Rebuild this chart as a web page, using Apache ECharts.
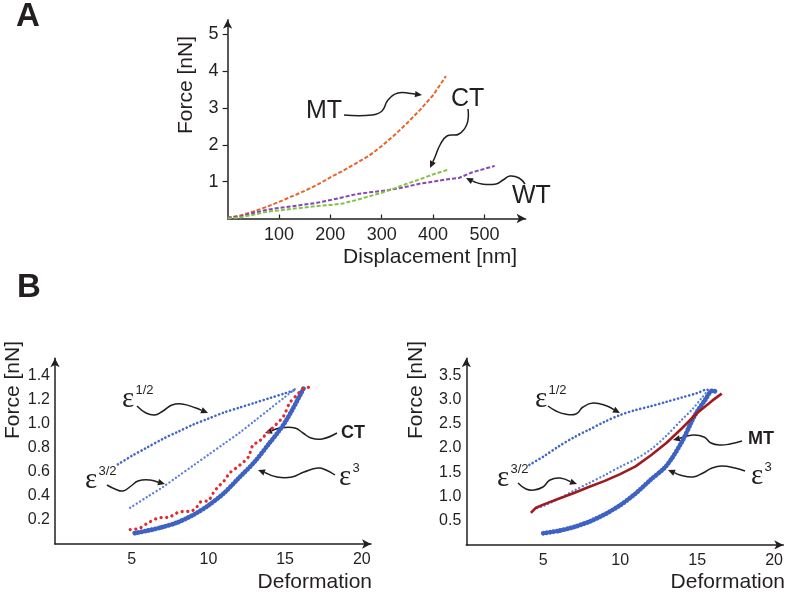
<!DOCTYPE html>
<html><head><meta charset="utf-8">
<script src="https://cdn.jsdelivr.net/npm/echarts@6/dist/echarts.min.js"></script>
<style>html,body{margin:0;padding:0;background:#fff}#c{width:787px;height:593px}</style>
</head><body><div id="c"></div>
<script>
// ---------- Panel A : Force vs Displacement ----------
const aTicksX = [100, 200, 300, 400, 500];
const aTicksY = [1, 2, 3, 4, 5];
const mtDisp  = [0, 25, 50, 75, 100, 125, 150, 175, 200, 225, 250, 275, 300, 325, 350, 375, 400, 425];
const mtForce = [0.02, 0.08, 0.19, 0.31, 0.45, 0.6, 0.75, 0.92, 1.12, 1.3, 1.5, 1.7, 1.97, 2.27, 2.6, 2.96, 3.35, 3.87];
const ctDisp  = [0, 25, 50, 75, 100, 125, 150, 175, 200, 225, 250, 275, 300, 325, 350, 375, 400, 430];
const ctForce = [0.0, 0.03, 0.1, 0.18, 0.22, 0.26, 0.3, 0.34, 0.37, 0.41, 0.5, 0.6, 0.7, 0.82, 0.95, 1.07, 1.2, 1.33];
const wtDisp  = [0, 25, 50, 75, 100, 125, 150, 175, 200, 225, 250, 275, 300, 325, 350, 375, 400, 425, 450, 475, 500, 520];
const wtForce = [0.02, 0.06, 0.15, 0.23, 0.29, 0.33, 0.38, 0.43, 0.5, 0.58, 0.66, 0.71, 0.75, 0.8, 0.87, 0.95, 1.0, 1.06, 1.1, 1.25, 1.35, 1.43];

// ---------- Panel B left : CT ----------
const bTicksX = [5, 10, 15, 20];
const blTicksY = [0.2, 0.4, 0.6, 0.8, 1.0, 1.2, 1.4];
const lE12x = [4.1, 5, 6, 7, 8, 9, 10, 11, 12, 13, 14, 15, 15.7];
const lE12y = [0.66, 0.73, 0.8, 0.87, 0.93, 0.99, 1.04, 1.09, 1.13, 1.17, 1.21, 1.25, 1.28];
const lE32x = [4.9, 6, 7, 8, 9, 10, 11, 12, 13, 14, 15, 15.7];
const lE32y = [0.3, 0.39, 0.47, 0.56, 0.65, 0.74, 0.83, 0.92, 1.02, 1.12, 1.22, 1.29];
const lE3x  = [5.2, 6, 7, 8, 9, 10, 11, 12, 13, 14, 14.5, 15, 15.5, 16, 16.2];
const lE3y  = [0.09, 0.11, 0.14, 0.18, 0.24, 0.32, 0.42, 0.55, 0.68, 0.84, 0.92, 1.01, 1.12, 1.24, 1.29];
const ctDefX = [4.9, 5.5, 6.0, 6.6, 7.0, 7.4, 7.7, 8.0, 8.4, 8.8, 9.2, 9.5, 10.0, 10.3, 10.6, 11.0, 11.4, 11.8, 12.1, 12.6, 12.9, 13.3, 13.6, 14.0, 14.4, 14.9, 15.3, 15.8, 16.2, 16.6];
const ctDefY = [0.12, 0.13, 0.17, 0.21, 0.22, 0.22, 0.24, 0.26, 0.27, 0.27, 0.3, 0.35, 0.36, 0.42, 0.47, 0.52, 0.59, 0.63, 0.66, 0.72, 0.82, 0.85, 0.89, 0.94, 0.99, 1.06, 1.17, 1.24, 1.29, 1.3];

// ---------- Panel B right : MT ----------
const brTicksY = [0.5, 1.0, 1.5, 2.0, 2.5, 3.0, 3.5];
const rE12x = [4.1, 5, 6, 7, 8, 9, 10, 11, 12, 13, 14, 15, 15.6, 16.2];
const rE12y = [1.65, 1.82, 2.03, 2.22, 2.38, 2.54, 2.68, 2.78, 2.86, 2.95, 3.04, 3.13, 3.2, 3.18];
const rE32x = [4.6, 5, 6, 7, 8, 9, 10, 11, 12, 13, 14, 14.7, 15.3, 15.8, 16.2];
const rE32y = [0.76, 0.8, 0.95, 1.12, 1.28, 1.44, 1.61, 1.77, 1.97, 2.25, 2.58, 2.8, 3.03, 3.18, 3.16];
const rE3x  = [5, 6, 7, 8, 9, 10, 11, 12, 13, 14, 14.7, 15, 15.5, 16, 16.3];
const rE3y  = [0.24, 0.29, 0.37, 0.48, 0.63, 0.82, 1.06, 1.35, 1.63, 2.12, 2.58, 2.75, 2.98, 3.18, 3.15];
const mtDefX = [4.2, 4.5, 5, 6, 7, 8, 9, 10, 11, 12, 13, 14, 15, 16, 16.6];
const mtDefY = [0.66, 0.76, 0.83, 0.95, 1.07, 1.2, 1.32, 1.46, 1.62, 1.85, 2.1, 2.4, 2.72, 2.98, 3.12];

const pairs = (xs, ys) => xs.map((x, i) => [x, ys[i]]);
const INK = '#231f20';
const SANS = 'Liberation Sans';
const SERIF = 'Liberation Serif';

function xAxisCfg(grid, max, ticks, fs, tickShow) {
  return {
    type: 'value', gridIndex: grid, min: 0, max: max,
    axisLine: { show: true, onZero: false, symbol: ['none', 'arrow'], symbolSize: [7, 9], lineStyle: { color: INK, width: 1.5 } },
    axisTick: { show: tickShow, inside: true, length: 4, customValues: ticks, lineStyle: { color: INK, width: 1.2 } },
    axisLabel: { customValues: ticks, margin: 8, color: INK, fontSize: fs, fontFamily: SANS },
    splitLine: { show: false }
  };
}
function yAxisCfg(grid, max, ticks, fs, tickShow, margin, dec) {
  return {
    type: 'value', gridIndex: grid, min: 0, max: max,
    axisLine: { show: true, onZero: false, symbol: ['none', 'arrow'], symbolSize: [7, 9], lineStyle: { color: INK, width: 1.5 } },
    axisTick: { show: tickShow, inside: false, length: 5, customValues: ticks, lineStyle: { color: INK, width: 1.2 } },
    axisLabel: { customValues: ticks, margin: margin, color: INK, fontSize: fs, fontFamily: SANS,
      formatter: v => dec ? Number(v).toFixed(1) : String(v) },
    splitLine: { show: false }
  };
}
function dashed(name, xi, data, color) {
  return { name, type: 'line', xAxisIndex: xi, yAxisIndex: xi, data, showSymbol: false, symbol: 'none',
    lineStyle: { color, width: 2, type: [4, 2] }, animation: false };
}
function dotted(name, xi, data, color, w, gap) {
  return { name, type: 'line', xAxisIndex: xi, yAxisIndex: xi, data, showSymbol: false, symbol: 'none', smooth: 0.3,
    lineStyle: { color, width: w, type: [0.1, gap], cap: 'round' }, animation: false };
}

function arrow(pts) {
  const n = pts.length;
  const [x1, y1] = pts[n - 2], [x2, y2] = pts[n - 1];
  const ang = Math.atan2(y2 - y1, x2 - x1);
  const L = 7, W = 3.2;
  const bx = x2 - L * Math.cos(ang), by = y2 - L * Math.sin(ang);
  const px = -Math.sin(ang) * W, py = Math.cos(ang) * W;
  return [
    { type: 'polyline', shape: { points: pts.slice(0, -1).concat([[bx, by]]), smooth: 0.45 },
      style: { stroke: INK, lineWidth: 1.5, fill: null } },
    { type: 'polygon', shape: { points: [[x2, y2], [bx + px, by + py], [bx - px, by - py]] }, style: { fill: INK } }
  ];
}
function txt(x, y, text, opt) {
  return Object.assign({ type: 'text', x, y, style: Object.assign({ text, fill: INK, fontFamily: SANS, fontSize: 21, align: 'left', verticalAlign: 'middle' }, opt || {}) });
}
function eps(x, y, sup) {
  return [
    { type: 'text', x, y, style: { text: 'ε', fill: INK, fontFamily: SERIF, fontSize: 29, align: 'left', verticalAlign: 'middle' } },
    { type: 'text', x: x + 13.5, y: y - 9, style: { text: sup, fill: INK, fontFamily: SANS, fontSize: 13, align: 'left', verticalAlign: 'middle' } }
  ];
}
function vname(x, y, text) {
  return { type: 'text', x, y, rotation: Math.PI / 2,
    style: { text, fill: INK, fontFamily: SANS, fontSize: 21, align: 'center', verticalAlign: 'middle' } };
}

const graphics = [].concat(
  [txt(16, 17, 'A', { fontWeight: 'bold', fontSize: 33 }), txt(17, 288, 'B', { fontWeight: 'bold', fontSize: 33 })],
  [vname(186, 85, 'Force [nN]'), vname(13, 390, 'Force [nN]'), vname(416, 390, 'Force [nN]')],
  [txt(517, 257, 'Displacement [nm]', { align: 'right' }), txt(372, 582, 'Deformation', { align: 'right' }), txt(785, 582, 'Deformation', { align: 'right' })],
  [txt(306, 111, 'MT', { fontSize: 25 }), txt(451, 99, 'CT', { fontSize: 25 }), txt(512, 196, 'WT', { fontSize: 25 })],
  arrow([[344, 115], [372, 115], [382, 111], [388, 100], [398, 93], [411, 93.5], [422, 95]]),
  arrow([[468, 109], [467, 124], [459, 134], [447, 136], [440, 145], [435, 157], [430, 168]]),
  arrow([[525, 184], [519, 178], [510, 176], [503, 180], [496, 184], [482, 184], [472, 181], [466, 178]]),
  // B left
  eps(122, 399, '1/2'), eps(85, 480, '3/2'), eps(339, 477, '3'),
  [txt(341, 433, 'CT', { fontWeight: 'bold', fontSize: 18 })],
  arrow([[137, 406], [146, 413], [155, 415], [163, 411], [172, 405], [182, 404], [196, 408], [208, 413]]),
  arrow([[107, 485], [115, 489], [123, 491], [131, 486], [138, 481], [150, 480], [165, 484]]),
  arrow([[337, 433], [322, 439], [311, 438], [303, 433], [295, 428], [280, 428], [265, 433]]),
  arrow([[335, 475], [326, 470], [318, 468], [304, 472], [292, 477], [277, 477], [258, 470]]),
  // B right
  eps(535, 399, '1/2'), eps(497, 478, '3/2'), eps(751, 476, '3'),
  [txt(748, 439, 'MT', { fontWeight: 'bold', fontSize: 18 })],
  arrow([[548, 406], [556, 411], [565, 414], [576, 414], [583, 407], [593, 403], [607, 406], [620, 413]]),
  arrow([[518, 483], [526, 489], [534, 490], [543, 487], [550, 480], [560, 478], [577, 484]]),
  arrow([[742, 441], [730, 444], [720, 445], [711, 443], [704, 437], [693, 435], [673, 440]]),
  arrow([[745, 471], [735, 468], [722, 466], [712, 468], [703, 473], [693, 477], [680, 475], [668, 470]])
);

const chart = echarts.init(document.getElementById('c'), null, { renderer: 'canvas' });
chart.setOption({
  backgroundColor: '#fff',
  animation: false,
  grid: [
    { left: 227.6, top: 19.8, width: 298, height: 198.7 },
    { left: 55, top: 358.3, width: 316, height: 185.7 },
    { left: 466.3, top: 358.2, width: 317, height: 186.7 }
  ],
  xAxis: [
    xAxisCfg(0, 580, aTicksX, 18, true),
    xAxisCfg(1, 20.6, bTicksX, 16, false),
    xAxisCfg(2, 20.6, bTicksX, 16, false)
  ],
  yAxis: [
    yAxisCfg(0, 5.4, aTicksY, 18, true, 9, false),
    yAxisCfg(1, 1.54, blTicksY, 16, false, 5, true),
    yAxisCfg(2, 3.85, brTicksY, 16, false, 5, true)
  ],
  series: [
    dashed('MT', 0, pairs(mtDisp, mtForce), '#e8632b'),
    dashed('WT', 0, pairs(wtDisp, wtForce), '#8546b8'),
    dashed('CT', 0, pairs(ctDisp, ctForce), '#82c341'),
    dotted('ε1/2', 1, pairs(lE12x, lE12y), '#4468c8', 2.6, 3.8),
    dotted('ε3/2', 1, pairs(lE32x, lE32y), '#5a7fd6', 2.3, 3.8),
    dotted('ε3', 1, pairs(lE3x, lE3y), '#3d62c4', 4.8, 3.4),
    dotted('CT', 1, pairs(ctDefX, ctDefY), '#e22a2e', 3.2, 5.5),
    dotted('ε1/2', 2, pairs(rE12x, rE12y), '#4468c8', 2.6, 3.8),
    dotted('ε3/2', 2, pairs(rE32x, rE32y), '#5a7fd6', 2.3, 3.8),
    dotted('ε3', 2, pairs(rE3x, rE3y), '#3d62c4', 4.8, 3.4),
    { name: 'MT', type: 'line', xAxisIndex: 2, yAxisIndex: 2, data: pairs(mtDefX, mtDefY), showSymbol: false, symbol: 'none',
      lineStyle: { color: '#9e1b1e', width: 2.6 }, animation: false }
  ],
  graphic: graphics
});
</script>
</body></html>
